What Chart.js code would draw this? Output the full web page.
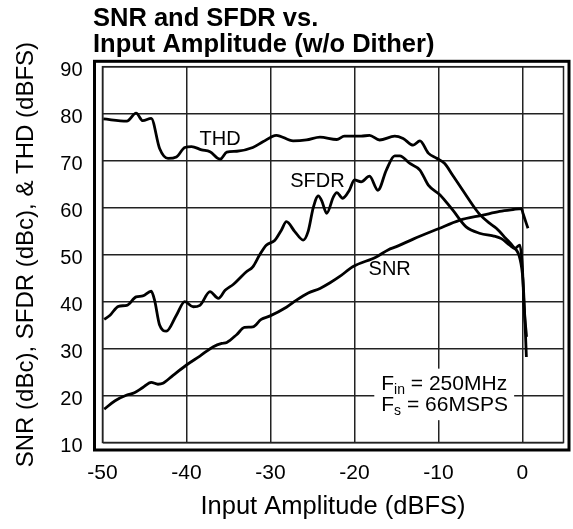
<!DOCTYPE html>
<html><head><meta charset="utf-8">
<script src="https://cdn.jsdelivr.net/npm/chart.js@4.4.1/dist/chart.umd.min.js"></script>
<style>html,body{margin:0;padding:0;background:#fff}#wrap{width:573px;height:529px}</style>
</head><body><div id="wrap"><canvas id="c" width="573" height="529"></canvas></div>
<script>
// ---- data ----
const xTicks = [-50, -40, -30, -20, -10, 0];
const yTicks = [10, 20, 30, 40, 50, 60, 70, 80, 90];

const thdX = [-49.9,-47.1,-46.0,-45.2,-44.2,-43.2,-42.2,-41.2,-40.2,-39.4,-38.2,-37.2,-36.0,-35.2,-34.0,-32.1,-30.9,-29.3,-27.3,-25.7,-24.1,-22.1,-21.2,-19.2,-18.2,-17.0,-15.2,-14.2,-13.0,-12.2,-11.2,-10.2,-9.25,-8.3,-7.1,-5.5,-5.0,-4.0,-3.1,-2.0,-1.1,-0.3,0.07,0.27,0.48];
const thdY = [78.9,78.4,80.1,78.5,79.0,72.6,70.5,70.8,72.8,73.0,72.3,71.9,70.3,71.8,72.0,72.8,74.0,75.4,74.2,74.4,75.0,74.5,75.2,75.2,75.4,74.4,75.2,74.7,73.3,74.2,71.6,70.5,69.4,66.9,63.7,59.5,58.4,56.8,55.6,53.5,51.7,49.2,44.6,37.5,28.2];

const sfdrX = [-49.8,-49.1,-48.1,-47.1,-46.0,-45.2,-44.2,-43.8,-43.2,-42.4,-41.2,-40.2,-39.2,-38.4,-37.2,-36.2,-35.4,-34.4,-32.9,-32.1,-31.3,-30.5,-29.5,-28.7,-28.1,-27.1,-26.1,-25.5,-24.9,-24.3,-23.9,-23.3,-22.5,-22.1,-21.4,-20.6,-20.0,-19.2,-18.2,-17.2,-16.2,-15.2,-14.6,-13.4,-12.2,-11.2,-9.8,-8.3,-6.7,-5.0,-3.5,-2.5,-1.5,-0.9,-0.3,0.0,0.2,0.5];
const sfdrY = [36.2,37.1,39.0,39.2,41.0,41.2,42.2,40.3,35.0,33.7,37.1,40.0,38.9,39.2,42.1,40.7,42.4,43.7,46.3,47.4,49.9,52.0,53.0,55.2,57.0,54.9,53.1,55.0,60.0,62.5,61.5,58.8,62.3,63.2,62.0,63.7,65.9,65.5,66.7,63.7,68.0,71.0,71.0,69.4,68.0,64.8,62.7,59.5,55.9,54.5,54.0,53.4,52.0,51.3,52.0,47.4,39.0,32.5];

const snrX = [-49.8,-48.5,-47.1,-46.2,-45.2,-44.2,-43.4,-42.8,-41.6,-40.0,-38.4,-36.8,-35.8,-35.2,-34.0,-33.1,-32.1,-31.1,-30.1,-28.1,-26.9,-25.5,-24.1,-22.9,-21.7,-20.2,-17.4,-16.0,-15.0,-13.0,-10.0,-7.5,-4.7,-2.7,-1.1,-0.1,0.07,0.67];
const snrY = [17.1,18.9,20.1,20.6,21.7,22.8,22.4,22.6,24.3,26.5,28.4,30.4,31.1,31.3,33.0,34.5,34.6,36.2,36.9,38.8,40.3,41.8,42.8,44.0,45.4,47.4,49.5,51.0,51.7,53.3,55.5,57.3,58.4,59.2,59.6,59.8,58.8,55.6];

const seriesNames = ['THD', 'SFDR', 'SNR'];
const titleLines = ['SNR and SFDR vs.', 'Input Amplitude (w/o Dither)'];
const xTitle = 'Input Amplitude (dBFS)';
const yTitle = 'SNR (dBc), SFDR (dBc), & THD (dBFS)';

// ---- helpers ----
const FONT = "'Liberation Sans', Arial, Helvetica, sans-serif";
const pts = (xs, ys) => xs.map((x, i) => ({x, y: ys[i]}));

const titlePlugin = {
  id: 'titleText',
  afterDraw(chart) {
    const c = chart.ctx;
    c.save();
    c.fillStyle = '#000';
    c.font = 'bold 25.5px ' + FONT;
    c.textBaseline = 'alphabetic';
    c.textAlign = 'left';
    c.fillText(titleLines[0], 93, 25.5);
    c.fillText(titleLines[1], 93, 52);
    c.restore();
  }
};

const framePlugin = {
  id: 'frame',
  afterDraw(chart) {
    const a = chart.chartArea, c = chart.ctx;
    c.save();
    c.strokeStyle = '#222';
    c.lineWidth = 1.5;
    c.strokeRect(a.left, a.top, a.right - a.left, a.bottom - a.top);
    c.strokeStyle = '#000';
    c.lineWidth = 3;
    c.strokeRect(a.left - 8, a.top - 5.4, a.right - a.left + 13.5, a.bottom - a.top + 12.9);
    c.restore();
  }
};

const labelPlugin = {
  id: 'labels',
  afterDatasetsDraw(chart) {
    const c = chart.ctx, xs = chart.scales.x, ys = chart.scales.y;
    c.save();
    c.fillStyle = '#000';
    c.font = '20px ' + FONT;
    c.textAlign = 'center';
    c.textBaseline = 'middle';
    const pos = {THD: [-36.0, 74.4], SFDR: [-24.4, 65.6], SNR: [-15.8, 46.9]};
    seriesNames.forEach(n => {
      c.fillText(n, xs.getPixelForValue(pos[n][0]), ys.getPixelForValue(pos[n][1]));
    });
    // condition box
    const lx = xs.getPixelForValue(-16.8);
    const y1 = ys.getPixelForValue(22.74) + 7, y2 = ys.getPixelForValue(18.16) + 7;
    c.textAlign = 'left';
    c.textBaseline = 'alphabetic';
    const big = '21px ' + FONT, small = '14px ' + FONT;
    function line(y, main, sub, rest) {
      let x = lx;
      c.font = big; c.fillText(main, x, y); x += c.measureText(main).width;
      c.font = small; c.fillText(sub, x, y + 4); x += c.measureText(sub).width;
      c.font = big; c.fillText(rest, x, y); x += c.measureText(rest).width;
      return x;
    }
    c.font = big;
    const w1 = c.measureText('F = 250MHz').width; c.font = small; const ws = c.measureText('in').width;
    const right = lx + w1 + ws;
    c.fillStyle = '#fff';
    c.fillRect(lx - 7, y1 - 21, right - lx + 14, y2 - y1 + 30);
    c.fillStyle = '#000';
    line(y1, 'F', 'in', ' = 250MHz');
    line(y2, 'F', 's', ' = 66MSPS');
    c.restore();
  }
};

const lineStyle = {borderColor: '#000', borderWidth: 2.8, pointRadius: 0, fill: false, cubicInterpolationMode: 'monotone'};

new Chart(document.getElementById('c'), {
  type: 'line',
  data: {
    datasets: [
      Object.assign({label: seriesNames[0], data: pts(thdX, thdY)}, lineStyle),
      Object.assign({label: seriesNames[1], data: pts(sfdrX, sfdrY)}, lineStyle),
      Object.assign({label: seriesNames[2], data: pts(snrX, snrY)}, lineStyle)
    ]
  },
  options: {
    responsive: false,
    animation: false,
    devicePixelRatio: 1,
    layout: {padding: {top: 66.7, right: 9.5, bottom: 0, left: 0}},
    plugins: {legend: {display: false}, tooltip: {enabled: false}, title: {display: false}},
    scales: {
      x: {
        type: 'linear', min: -50, max: 4.9,
        afterBuildTicks: s => { s.ticks = xTicks.map(v => ({value: v})); },
        afterFit: s => { s.height = 86.5; },
        grid: {color: '#222', lineWidth: 1.5, drawTicks: false},
        border: {display: false},
        ticks: {color: '#000', font: {family: FONT, size: 21}, padding: 18, maxRotation: 0, autoSkip: false},
        title: {display: true, text: xTitle, color: '#000', font: {family: FONT, size: 25.5}, padding: {top: 0, bottom: 7}}
      },
      y: {
        type: 'linear', min: 10, max: 90,
        afterBuildTicks: s => { s.ticks = yTicks.map(v => ({value: v})); },
        afterFit: s => { s.width = 102.5; },
        grid: {color: '#222', lineWidth: 1.5, drawTicks: false},
        border: {display: false},
        ticks: {color: '#000', font: {family: FONT, size: 20}, padding: 20, labelOffset: 3.5},
        title: {display: true, text: yTitle, color: '#000', font: {family: FONT, size: 24}, padding: {top: 12, bottom: 0}}
      }
    }
  },
  plugins: [titlePlugin, framePlugin, labelPlugin]
});
</script>
</body></html>
